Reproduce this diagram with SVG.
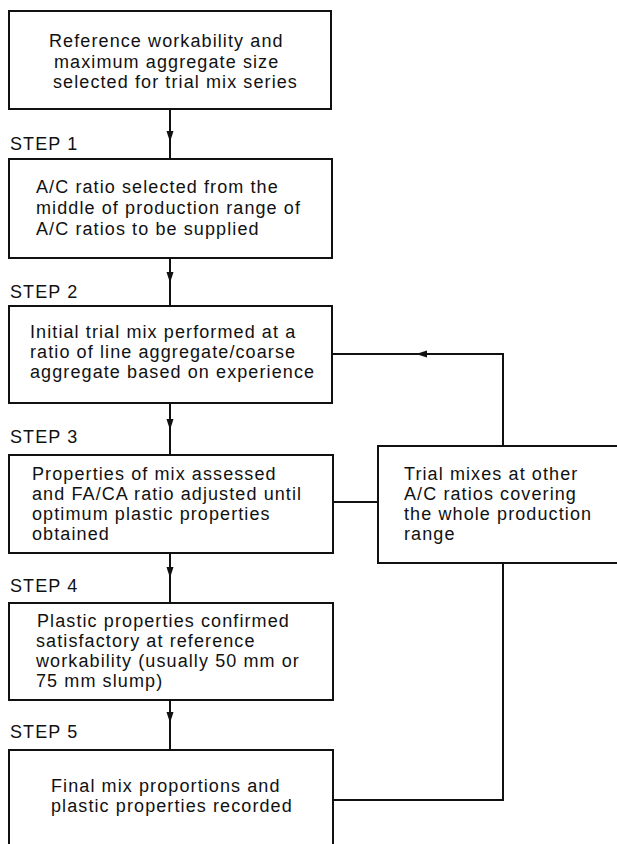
<svg xmlns="http://www.w3.org/2000/svg" width="617" height="844" viewBox="0 0 617 844">
<style>
  .box { fill: #fff; stroke: #111; stroke-width: 2; }
  .t { font-family: "Liberation Sans", Arial, sans-serif; font-size: 18px; letter-spacing: 1.1px; fill: #111; }
  .c { fill: none; stroke: #111; stroke-width: 2; }
</style>
<defs>
  <marker id="ah" markerUnits="userSpaceOnUse" markerWidth="12" markerHeight="8" refX="11" refY="3.5" orient="auto">
    <path d="M0,0 L11,3.5 L0,7 z" fill="#111"/>
  </marker>
</defs>
<rect width="617" height="844" fill="#fff"/>

<g id="connectors">
  <line class="c" x1="170" y1="109" x2="170" y2="142" marker-end="url(#ah)"/>
  <line class="c" x1="170" y1="140" x2="170" y2="159"/>
  <line class="c" x1="170" y1="258" x2="170" y2="283" marker-end="url(#ah)"/>
  <line class="c" x1="170" y1="281" x2="170" y2="306"/>
  <line class="c" x1="170" y1="403" x2="170" y2="430" marker-end="url(#ah)"/>
  <line class="c" x1="170" y1="428" x2="170" y2="455"/>
  <line class="c" x1="170" y1="553" x2="170" y2="578" marker-end="url(#ah)"/>
  <line class="c" x1="170" y1="576" x2="170" y2="603"/>
  <line class="c" x1="170" y1="700" x2="170" y2="723" marker-end="url(#ah)"/>
  <line class="c" x1="170" y1="721" x2="170" y2="750"/>
  <line class="c" x1="333" y1="502" x2="378" y2="502"/>
  <polyline class="c" points="333,800 503,800 503,563"/>
  <polyline class="c" points="503,446 503,354 416,354" marker-end="url(#ah)"/>
  <line class="c" x1="418" y1="354" x2="332" y2="354"/>
</g>

<g id="start">
  <rect class="box" x="9" y="11" width="322" height="98"/>
  <text class="t" x="49" y="47">Reference workability and</text>
  <text class="t" x="54" y="68">maximum aggregate size</text>
  <text class="t" x="53" y="88">selected for trial mix series</text>
</g>

<g id="step1">
  <text class="t" x="10" y="150">STEP 1</text>
  <rect class="box" x="9" y="159" width="323" height="99"/>
  <text class="t" x="36" y="193">A/C ratio selected from the</text>
  <text class="t" x="36" y="214">middle of production range of</text>
  <text class="t" x="36" y="235">A/C ratios to be supplied</text>
</g>

<g id="step2">
  <text class="t" x="10" y="298">STEP 2</text>
  <rect class="box" x="9" y="306" width="323" height="97"/>
  <text class="t" x="30" y="338">Initial trial mix performed at a</text>
  <text class="t" x="30" y="358">ratio of line aggregate/coarse</text>
  <text class="t" x="30" y="378">aggregate based on experience</text>
</g>

<g id="step3">
  <text class="t" x="10" y="443">STEP 3</text>
  <rect class="box" x="9" y="455" width="324" height="98"/>
  <text class="t" x="32" y="480">Properties of mix assessed</text>
  <text class="t" x="32" y="500">and FA/CA ratio adjusted until</text>
  <text class="t" x="32" y="520">optimum plastic properties</text>
  <text class="t" x="32" y="540">obtained</text>
</g>

<g id="trials">
  <rect class="box" x="378" y="446" width="245" height="117"/>
  <text class="t" x="404" y="480">Trial mixes at other</text>
  <text class="t" x="404" y="500">A/C ratios covering</text>
  <text class="t" x="404" y="520">the whole production</text>
  <text class="t" x="404" y="540">range</text>
</g>

<g id="step4">
  <text class="t" x="10" y="592">STEP 4</text>
  <rect class="box" x="9" y="603" width="324" height="97"/>
  <text class="t" x="37" y="627">Plastic properties confirmed</text>
  <text class="t" x="36" y="647">satisfactory at reference</text>
  <text class="t" x="36" y="667">workability (usually 50 mm or</text>
  <text class="t" x="36" y="687">75 mm slump)</text>
</g>

<g id="step5">
  <text class="t" x="10" y="738">STEP 5</text>
  <rect class="box" x="9" y="750" width="324" height="110"/>
  <text class="t" x="51" y="792">Final mix proportions and</text>
  <text class="t" x="51" y="812">plastic properties recorded</text>
</g>
</svg>
